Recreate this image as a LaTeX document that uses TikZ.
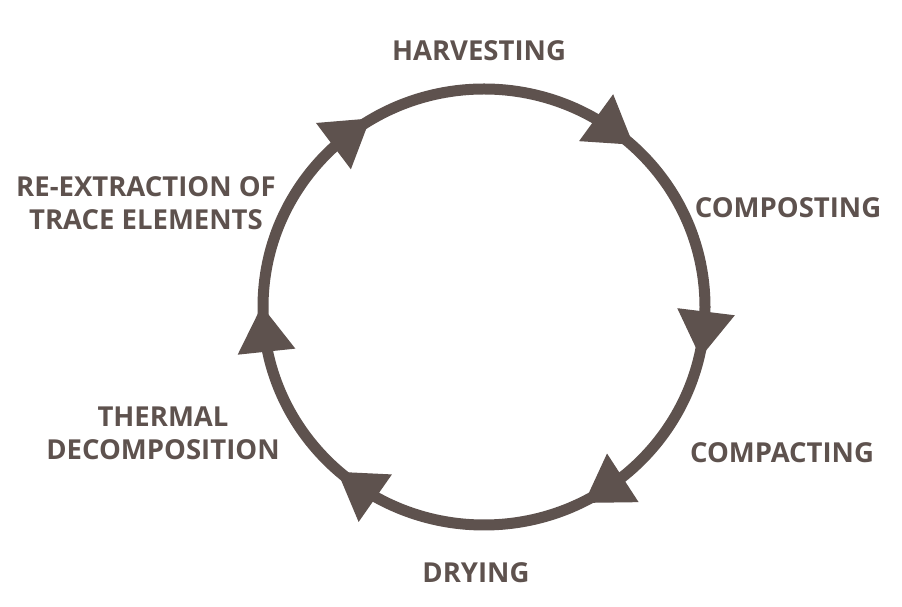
\documentclass[tikz,border=0pt]{standalone}
\usepackage{fontspec}
\setmainfont{Open Sans}
\usepackage{tikz}

\definecolor{ringbrown}{HTML}{5E524E}

\begin{document}
\begin{tikzpicture}[x=1pt,y=1pt,
	stage/.style={text=ringbrown,font=\bfseries\fontsize{27.5}{33}\selectfont,align=center,inner sep=0pt},
	ring/.style={draw=ringbrown,line width=11pt}]
	\useasboundingbox (0,0) rectangle (902,607);

	\coordinate (c) at (484,300);
	\draw[ring] (c) ellipse [x radius=221,y radius=218];

	% heads pointing clockwise
	\foreach \a in {127,54,-7,-57,235,186}
		\fill[ringbrown,shift={(c)},shift={(\a:221 and 218)},rotate=\a]
			(-29,22) -- (29,22) -- (0,-24) -- cycle;

	\node[stage] (harvesting) at (479,556) {HARVESTING};
	\node[stage] (composting) at (788,399) {COMPOSTING};
	\node[stage] (compacting) at (782,154) {COMPACTING};
	\node[stage] (drying) at (476,34) {DRYING};
	\node[stage] (thermal) at (163,174) {THERMAL\\DECOMPOSITION};
	\node[stage] (reextract) at (146,404) {RE-EXTRACTION OF\\TRACE ELEMENTS};

\end{tikzpicture}
\end{document}
